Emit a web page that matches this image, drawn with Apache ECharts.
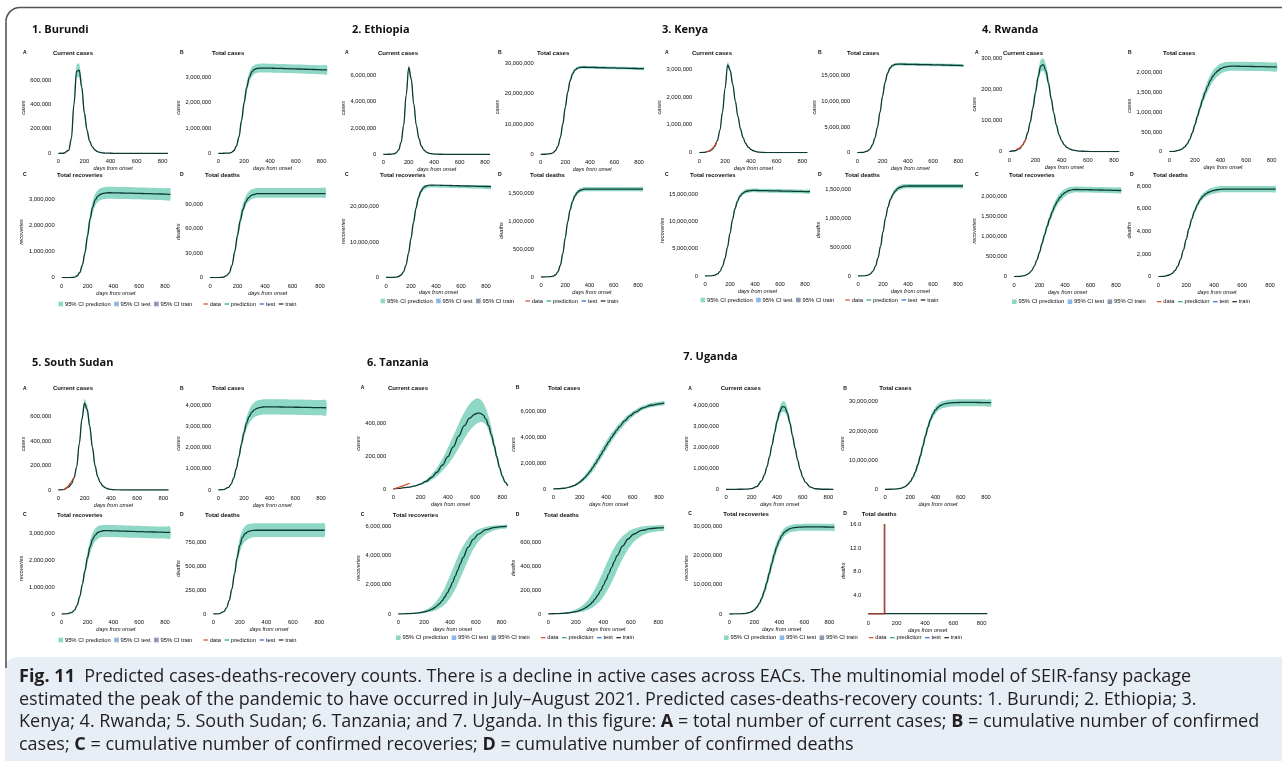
<!DOCTYPE html>
<html>
<head>
<meta charset="utf-8">
<title>Predicted cases-deaths-recovery counts</title>
<script src="https://cdn.jsdelivr.net/npm/echarts@6.0.0/dist/echarts.min.js"></script>
<style>
  html, body { margin: 0; padding: 0; background: #ffffff; }
  #chart { width: 1282px; height: 761px; }
</style>
</head>
<body>
<div id="chart"></div>
<script>
// Days from onset at which the model curves are sampled.
const DAYS = [0,40,80,100,120,140,160,180,200,220,240,260,280,300,320,340,360,380,400,420,440,460,480,500,540,580,620,680,740,800,840];

// Curve values are in thousands unless a panel says otherwise.
// A = current cases, B = total cases, C = total recoveries, D = total deaths; Lo/Hi = 95% CI of the prediction.

// ---- 1. Burundi ----
const burundiA   = [0,0.5,25,120,400,670,680,540,330,190,100,55,28,14,7,3,2,1,0.5,0,0,0,0,0,0,0,0,0,0,0,0];
const burundiAHi = [0,0.6,30,140,450,725,735,590,370,215,115,63,33,17,8,4,2,1,0.6,0,0,0,0,0,0,0,0,0,0,0,0];
const burundiALo = [0,0.4,20,100,350,615,625,490,290,165,85,47,23,11,6,2.5,1.5,0.8,0.4,0,0,0,0,0,0,0,0,0,0,0,0];
const burundiB   = [0,1,10,30,100,280,650,1300,2000,2600,3000,3220,3310,3350,3360,3365,3365,3363,3360,3358,3355,3352,3350,3347,3340,3333,3327,3317,3307,3297,3290];
const burundiBHi = [0,1.2,12,35,115,320,740,1450,2200,2800,3200,3410,3490,3525,3535,3540,3540,3538,3535,3533,3530,3527,3525,3522,3515,3508,3502,3492,3482,3472,3465];
const burundiBLo = [0,0.8,8,25,85,240,560,1150,1800,2400,2800,3030,3130,3175,3185,3190,3190,3188,3185,3183,3180,3177,3175,3172,3165,3158,3152,3142,3132,3122,3115];
const burundiC   = [0,0,8,25,75,200,480,950,1600,2250,2700,2980,3120,3190,3225,3240,3250,3250,3248,3246,3244,3242,3240,3238,3233,3228,3222,3215,3207,3198,3192];
const burundiCHi = [0,0,10,30,90,240,560,1100,1820,2480,2930,3210,3350,3420,3455,3470,3478,3478,3476,3474,3472,3470,3468,3466,3461,3456,3450,3443,3435,3426,3420];
const burundiCLo = [0,0,6,20,60,165,400,810,1390,2030,2480,2760,2900,2965,2998,3012,3020,3020,3018,3016,3014,3012,3010,3008,3003,2998,2992,2985,2977,2968,2962];
const burundiD   = [0,0,0.3,0.8,2.5,6,15,32,52,70,84,93,98,101,102,103,103,103,103,103,103,103,103,103,103,103,103,103,103,103,103];
const burundiDHi = [0,0,0.35,0.95,3,7,17.5,36,58,77,91,100,105,108,109,110,110,110,110,110,110,110,110,110,110,110,110,110,110,110,110];
const burundiDLo = [0,0,0.25,0.65,2,5,12.5,28,46,63,78,88,93,96,97,98,98,98,98,98,98,98,98,98,98,98,98,98,98,98,98];

// ---- 2. Ethiopia ----
const ethiopiaA   = [0,2,30,100,320,900,2200,4500,6600,5700,3800,2200,1200,620,320,160,80,40,20,10,5,2,1,0.5,0,0,0,0,0,0,0];
const ethiopiaAHi = [0,2.2,33,110,350,980,2380,4750,6800,5950,4000,2330,1280,670,350,175,88,44,22,11,5.5,2.2,1.1,0.5,0,0,0,0,0,0,0];
const ethiopiaALo = [0,1.8,27,90,290,820,2020,4250,6400,5450,3600,2070,1120,570,290,145,72,36,18,9,4.5,1.8,0.9,0.4,0,0,0,0,0,0,0];
const ethiopiaB   = [0,20,200,500,1200,2700,5500,10000,15500,20500,24300,26600,27800,28400,28650,28700,28700,28680,28660,28640,28620,28600,28580,28560,28520,28480,28440,28380,28320,28260,28220];
const ethiopiaBHi = [0,22,220,550,1320,2970,6000,10800,16500,21500,25100,27200,28300,28850,29100,29150,29150,29130,29110,29090,29070,29050,29030,29010,28970,28930,28890,28830,28770,28710,28670];
const ethiopiaBLo = [0,18,180,450,1080,2430,5000,9200,14500,19500,23500,26000,27300,27950,28200,28250,28250,28230,28210,28190,28170,28150,28130,28110,28070,28030,27990,27930,27870,27810,27770];
const ethiopiaC   = [0,10,100,280,700,1600,3500,6800,11000,15500,19500,22500,24300,25300,25800,26000,26050,26050,26030,26010,25990,25970,25950,25930,25890,25850,25810,25750,25690,25630,25590];
const ethiopiaCHi = [0,11,110,310,770,1760,3850,7400,11800,16400,20400,23300,25000,26000,26500,26700,26750,26750,26730,26710,26690,26670,26650,26630,26590,26550,26510,26450,26390,26330,26290];
const ethiopiaCLo = [0,9,90,250,630,1440,3150,6200,10200,14600,18600,21700,23600,24600,25100,25300,25350,25350,25330,25310,25290,25270,25250,25230,25190,25150,25110,25050,24990,24930,24890];
const ethiopiaD   = [0,0.5,5,15,40,95,210,420,700,980,1200,1350,1450,1510,1545,1560,1568,1570,1570,1570,1570,1570,1570,1570,1570,1570,1570,1570,1570,1570,1570];
const ethiopiaDHi = [0,0.55,5.5,16.5,44,104,230,455,750,1030,1250,1395,1490,1548,1582,1597,1605,1607,1607,1607,1607,1607,1607,1607,1607,1607,1607,1607,1607,1607,1607];
const ethiopiaDLo = [0,0.45,4.5,13.5,36,86,190,385,650,930,1150,1305,1410,1472,1508,1523,1531,1533,1533,1533,1533,1533,1533,1533,1533,1533,1533,1533,1533,1533,1533];

// ---- 3. Kenya ----
const kenyaA   = [0,15,60,120,230,430,800,1450,2300,3150,2950,2450,1850,1300,850,540,330,200,120,70,40,22,12,7,2.5,1,0.3,0,0,0,0];
const kenyaAHi = [0,16,63,126,242,452,840,1520,2410,3260,3060,2540,1920,1350,885,565,345,210,126,74,42,23,12.6,7.4,2.6,1,0.3,0,0,0,0];
const kenyaALo = [0,14,57,114,218,408,760,1380,2190,3040,2840,2360,1780,1250,815,515,315,190,114,66,38,21,11.4,6.6,2.4,1,0.3,0,0,0,0];
const kenyaB   = [0,40,300,700,1500,2900,5000,7900,11000,13700,15500,16500,17000,17200,17250,17250,17240,17230,17220,17210,17200,17190,17180,17170,17150,17130,17110,17080,17040,17000,16970];
const kenyaBHi = [0,42,315,735,1575,3045,5250,8300,11500,14200,15900,16850,17300,17480,17520,17520,17510,17500,17490,17480,17470,17460,17450,17440,17420,17400,17380,17350,17310,17270,17240];
const kenyaBLo = [0,38,285,665,1425,2755,4750,7500,10500,13200,15100,16150,16700,16920,16980,16980,16970,16960,16950,16940,16930,16920,16910,16900,16880,16860,16840,16810,16770,16730,16700];
const kenyaC   = [0,20,150,380,850,1750,3200,5300,7800,10300,12300,13700,14600,15100,15400,15550,15620,15650,15650,15640,15630,15620,15610,15600,15580,15560,15540,15510,15480,15450,15430];
const kenyaCHi = [0,21,158,400,890,1840,3360,5560,8150,10700,12700,14100,15000,15480,15760,15900,15970,16000,16000,15990,15980,15970,15960,15950,15930,15910,15890,15860,15830,15800,15780];
const kenyaCLo = [0,19,142,360,810,1660,3040,5040,7450,9900,11900,13300,14200,14720,15040,15200,15270,15300,15300,15290,15280,15270,15260,15250,15230,15210,15190,15160,15130,15100,15080];
const kenyaD   = [0,2,15,38,85,170,310,510,760,1000,1190,1320,1410,1470,1510,1530,1545,1550,1552,1552,1552,1552,1552,1552,1552,1552,1552,1552,1552,1552,1552];
const kenyaDHi = [0,2.1,15.5,39,88,176,320,527,785,1030,1225,1358,1450,1510,1550,1570,1585,1590,1592,1592,1592,1592,1592,1592,1592,1592,1592,1592,1592,1592,1592];
const kenyaDLo = [0,1.9,14.5,37,82,164,300,493,735,970,1155,1282,1370,1430,1470,1490,1505,1510,1512,1512,1512,1512,1512,1512,1512,1512,1512,1512,1512,1512,1512];
const kenyaAData = [[60,30],[80,70],[100,140],[120,260],[135,400]];

// ---- 4. Rwanda ----
const rwandaA   = [0,3,10,20,35,60,95,140,190,240,275,280,260,220,170,125,85,55,35,22,14,9,6,4,2,1,0.5,0,0,0,0];
const rwandaAHi = [0,3.2,11,21.5,38,65,103,152,205,258,295,300,279,236,183,135,92,60,38,24,15,10,6.5,4.3,2.2,1.1,0.5,0,0,0,0];
const rwandaALo = [0,2.8,9,18.5,32,55,87,128,175,222,255,260,241,204,157,115,78,50,32,20,13,8,5.5,3.7,1.8,0.9,0.5,0,0,0,0];
const rwandaB   = [0,10,40,70,120,200,320,480,680,900,1110,1320,1500,1660,1800,1910,1990,2050,2100,2130,2150,2160,2165,2165,2163,2160,2158,2155,2152,2148,2145];
const rwandaBHi = [0,11,44,77,132,220,352,528,745,985,1210,1435,1625,1795,1940,2050,2130,2185,2230,2255,2270,2278,2280,2280,2278,2275,2272,2268,2265,2260,2257];
const rwandaBLo = [0,9,36,63,108,180,288,432,615,815,1010,1205,1375,1525,1660,1770,1850,1915,1970,2005,2030,2042,2050,2050,2048,2045,2043,2040,2037,2033,2030];
const rwandaC   = [0,5,25,50,90,160,270,420,610,830,1050,1260,1450,1620,1770,1890,1980,2050,2100,2140,2160,2175,2180,2180,2178,2175,2172,2168,2163,2158,2155];
const rwandaCHi = [0,5.5,27,54,97,172,290,450,655,890,1125,1345,1545,1720,1875,1995,2085,2150,2195,2225,2240,2250,2252,2252,2250,2247,2244,2240,2235,2230,2227];
const rwandaCLo = [0,4.5,23,46,83,148,250,390,565,770,975,1175,1355,1520,1665,1785,1875,1950,2005,2055,2080,2100,2108,2108,2106,2103,2100,2096,2091,2086,2083];
const rwandaD   = [0,0.03,0.15,0.3,0.55,0.95,1.55,2.35,3.3,4.25,5.1,5.8,6.35,6.8,7.1,7.3,7.45,7.55,7.62,7.67,7.7,7.72,7.72,7.72,7.72,7.72,7.72,7.72,7.72,7.72,7.72];
const rwandaDHi = [0,0.035,0.16,0.32,0.58,1.0,1.64,2.48,3.48,4.45,5.32,6.03,6.6,7.05,7.35,7.56,7.72,7.82,7.9,7.95,7.98,8.0,8.0,8.0,8.0,8.0,8.0,8.0,8.0,8.0,8.0];
const rwandaDLo = [0,0.025,0.14,0.28,0.52,0.9,1.46,2.22,3.12,4.05,4.88,5.57,6.1,6.55,6.85,7.04,7.18,7.28,7.34,7.39,7.42,7.44,7.44,7.44,7.44,7.44,7.44,7.44,7.44,7.44,7.44];
const rwandaAData = [[50,6],[70,10],[90,16],[110,27],[125,40]];

// ---- 5. South Sudan ----
const southSudanA   = [0,3,25,50,100,190,380,580,710,660,520,350,200,110,60,32,17,9,4.5,2,1,0.5,0,0,0,0,0,0,0,0,0];
const southSudanAHi = [0,3.3,27,54,108,205,405,610,745,700,560,380,220,122,67,36,19,10,5,2.2,1.1,0.5,0,0,0,0,0,0,0,0,0];
const southSudanALo = [0,2.7,23,46,92,175,355,550,675,620,480,320,180,98,53,28,15,8,4,1.8,0.9,0.5,0,0,0,0,0,0,0,0,0];
const southSudanB   = [0,15,120,280,560,1000,1550,2150,2700,3150,3450,3650,3770,3840,3880,3900,3910,3915,3915,3913,3911,3909,3907,3905,3901,3897,3893,3887,3881,3875,3870];
const southSudanBHi = [0,16,130,305,610,1090,1690,2350,2950,3440,3770,3990,4120,4200,4240,4260,4270,4275,4275,4273,4271,4269,4267,4265,4261,4257,4253,4247,4241,4235,4230];
const southSudanBLo = [0,14,110,255,510,910,1410,1950,2450,2860,3130,3310,3420,3480,3520,3540,3550,3555,3555,3553,3551,3549,3547,3545,3541,3537,3533,3527,3521,3515,3510];
const southSudanC   = [0,5,60,150,330,650,1100,1600,2100,2500,2780,2940,3030,3075,3095,3100,3098,3095,3092,3089,3086,3083,3080,3077,3071,3065,3059,3052,3045,3038,3033];
const southSudanCHi = [0,5.5,66,165,363,715,1210,1760,2310,2740,3020,3180,3260,3295,3310,3312,3310,3307,3304,3301,3298,3295,3292,3289,3283,3277,3271,3264,3257,3250,3245];
const southSudanCLo = [0,4.5,54,135,297,585,990,1440,1890,2260,2540,2700,2790,2840,2860,2866,2864,2861,2858,2855,2852,2849,2846,2843,2837,2831,2825,2818,2811,2804,2799];
const southSudanD   = [0,2,25,65,140,260,420,590,720,800,840,860,870,874,876,876,876,876,876,876,876,876,876,876,876,876,876,876,876,876,876];
const southSudanDHi = [0,2.2,27,71,154,286,462,650,795,880,920,940,945,947,948,948,948,948,948,948,948,948,948,948,948,948,948,948,948,948,948];
const southSudanDLo = [0,1.8,23,59,126,234,378,530,645,720,760,780,795,802,805,805,805,805,805,805,805,805,805,805,805,805,805,805,805,805,805];
const southSudanAData = [[40,2],[60,18],[80,40],[100,70],[120,105]];

// ---- 6. Tanzania ----
// current cases use their own, denser sampling around the late peak
const tanzaniaADays = [0,40,80,120,160,200,240,280,320,360,400,440,480,520,560,600,620,640,660,680,700,720,740,760,780,800,820,840];
const tanzaniaA   = [0,4,8,12,19,30,46,70,102,145,197,257,322,384,432,456,462,461,450,425,385,330,265,195,130,78,42,20];
const tanzaniaAHi = [0,4.5,9,14,22,36,57,88,129,184,250,323,398,466,518,548,552,545,525,490,440,375,300,220,148,90,50,24];
const tanzaniaALo = [0,3.5,7,10,16,24,36,54,78,110,148,194,248,305,355,390,402,408,405,390,355,300,238,172,112,66,35,17];
const tanzaniaB   = [0,20,60,95,140,200,280,390,530,700,900,1130,1390,1680,1990,2320,2660,3000,3340,3670,3990,4290,4570,4830,5290,5670,5970,6300,6500,6610,6660];
const tanzaniaBHi = [0,25,80,125,180,255,355,490,660,860,1090,1350,1640,1960,2300,2650,3000,3350,3690,4010,4320,4600,4860,5100,5520,5870,6140,6480,6680,6780,6820];
const tanzaniaBLo = [0,16,45,70,105,150,210,290,400,540,710,910,1140,1400,1690,2000,2330,2660,3000,3330,3650,3960,4250,4520,5010,5420,5760,6150,6350,6450,6500];
const tanzaniaC   = [0,12,24,33,45,60,80,106,141,186,249,326,425,552,713,916,1160,1453,1787,2166,2575,3000,3425,3834,4547,5084,5450,5751,5892,5953,5974];
const tanzaniaCHi = [0,20,40,55,75,100,140,185,245,325,425,550,715,920,1170,1470,1810,2200,2620,3050,3480,3900,4280,4620,5170,5540,5770,5950,6040,6070,6085];
const tanzaniaCLo = [0,6,12,16,22,30,40,54,72,97,128,170,225,295,390,505,655,840,1075,1355,1670,2030,2430,2850,3670,4390,4940,5450,5700,5810,5850];
const tanzaniaD   = [0,2,3.7,4.9,6.5,8.6,11.5,15,20,26,35,46,59,77,99,126,158,196,240,288,339,391,442,490,572,631,671,704,718,725,727];
const tanzaniaDHi = [0,4,7,9.5,12.6,16.6,22,29,38,50,65,84,107,137,173,212,259,309,362,415,467,515,559,597,655,693,717,736,744,747,749];
const tanzaniaDLo = [0,1.1,1.9,2.5,3.3,4.4,5.9,7.8,10.3,13.6,18,24,31,41,53,70,90,114,144,180,221,266,314,365,462,543,604,658,685,696,700];
const tanzaniaAData = [[0,0],[40,10],[80,22],[120,35]];

// ---- 7. Uganda ----
// current cases use their own, denser sampling around the peak
const ugandaADays = [0,40,80,120,160,200,240,280,300,320,340,360,380,400,420,440,460,480,500,520,540,560,580,600,620,660,700,760,840];
const ugandaA   = [0,0.5,1,2,5.5,30,126,413,680,1055,1535,2100,2690,3250,3680,3920,3900,3620,3150,2550,1950,1400,930,580,340,100,25,2,0];
const ugandaAHi = [0,0.5,1.1,2.1,5.8,32,134,440,725,1120,1630,2230,2860,3450,3910,4170,4150,3850,3350,2710,2070,1490,990,615,360,106,27,2,0];
const ugandaALo = [0,0.5,0.9,1.9,5.2,28,118,386,635,990,1440,1970,2520,3050,3450,3670,3650,3390,2950,2390,1830,1310,870,545,320,94,23,2,0];
const ugandaB   = [0,20,80,150,300,550,950,1600,2600,4000,5900,8400,11400,14800,18200,21300,23900,25800,27200,28100,28700,29100,29350,29500,29650,29720,29750,29750,29720,29680,29650];
const ugandaBHi = [0,22,90,170,340,630,1100,1850,3000,4600,6700,9400,12600,16100,19500,22500,25000,26900,28300,29200,29800,30200,30450,30600,30750,30820,30850,30850,30820,30780,30750];
const ugandaBLo = [0,18,70,130,260,470,810,1360,2200,3400,5100,7400,10200,13500,16900,20000,22600,24500,25900,26800,27400,27800,28050,28200,28350,28420,28450,28450,28420,28380,28350];
const ugandaC   = [0,10,40,80,150,280,500,850,1400,2300,3600,5400,7800,10700,13900,17200,20300,23000,25100,26700,27800,28500,29000,29300,29550,29650,29700,29700,29680,29650,29620];
const ugandaCHi = [0,11,45,90,170,320,580,990,1650,2700,4200,6300,9000,12200,15600,19000,22100,24700,26700,28200,29200,29800,30200,30450,30650,30720,30750,30750,30730,30700,30680];
const ugandaCLo = [0,9,35,70,130,240,420,710,1150,1900,3000,4500,6600,9200,12200,15400,18500,21300,23500,25200,26400,27200,27700,28000,28250,28350,28400,28400,28380,28350,28320];
// Uganda deaths are plain counts (not thousands).
const ugandaD   = [1,1,1,1,1,1,1,1,1,1,1,1,1,1,1,1,1,1,1,1,1,1,1,1,1,1,1,1,1,1,1];
const ugandaDData  = [[0,1],[112,1],[112,16]];
const ugandaDTrain = [[0,1],[116,1],[116,16]];

// Shared text for the four panels of each country.
const PANEL_TEXT = {
  A: ['Current cases', 'cases'],
  B: ['Total cases', 'cases'],
  C: ['Total recoveries', 'recoveries'],
  D: ['Total deaths', 'deaths']
};
const LEGEND_FILLS = ['95% CI prediction', '95% CI test', '95% CI train'];
const LEGEND_LINES = ['data', 'prediction', 'test', 'train'];
const CAPTION_LINES = [
  '{b|Fig. 11}  Predicted cases-deaths-recovery counts. There is a decline in active cases across EACs. The multinomial model of SEIR-fansy package',
  'estimated the peak of the pandemic to have occurred in July\u2013August 2021. Predicted cases-deaths-recovery counts: 1. Burundi; 2. Ethiopia; 3.',
  'Kenya; 4. Rwanda; 5. South Sudan; 6. Tanzania; and 7. Uganda. In this figure: {b|A} = total number of current cases; {b|B} = cumulative number of confirmed',
  'cases; {b|C} = cumulative number of confirmed recoveries; {b|D} = cumulative number of confirmed deaths'
];

// ---------- styling ----------
const XMAX = 840;
const FONT = '"Liberation Sans", Arial, sans-serif';
const CAPTION_FONT = '"Open Sans", "Noto Sans", sans-serif';
const TICK_SIZE = 5.8;
const INK = '#0d0d0d';
const BAND = '#8fd8c6';
const MAIN = '#0c3934';
const DATA_RED = '#d8462a';
const TRAIN_DARK = '#14213d';
const KEY_COLORS = {
  '95% CI prediction': '#8fd8c6', '95% CI test': '#8db8ea', '95% CI train': '#8d99ae',
  data: '#d8462a', prediction: '#1fa38a', test: '#2f6bd1', train: '#14213d'
};

// Panel geometry in page pixels: x0/x8 = day 0 / day 800, y0 = value 0, yT = value T.
function P(id, mid, lo, hi, geo, extra) {
  return Object.assign({ id, mid, lo, hi, geo, unit: 1000 }, extra || {});
}
const COUNTRIES = [
  { title: '1. Burundi', tx: 32, ty: 30, legendX: 177.5, legendY: 304, panels: [
    P('A', burundiA, burundiALo, burundiAHi, { x0: 58.3, x8: 162.7, y0: 153.3, yT: 80, T: 6e5, step: 2e5, top: 62, lx: 23, tx: 53, ty: 53 }),
    P('B', burundiB, burundiBLo, burundiBHi, { x0: 218.3, x8: 321.7, y0: 153.3, yT: 77.3, T: 3e6, step: 1e6, top: 62, lx: 180, tx: 212, ty: 53 }),
    P('C', burundiC, burundiCLo, burundiCHi, { x0: 61.7, x8: 165, y0: 277.7, yT: 199.3, T: 3e6, step: 1e6, top: 186, lx: 23, tx: 57, ty: 175 }),
    P('D', burundiD, burundiDLo, burundiDHi, { x0: 210, x8: 320, y0: 277.7, yT: 204.3, T: 9e4, step: 3e4, top: 186, lx: 180, tx: 205, ty: 175 })
  ]},
  { title: '2. Ethiopia', tx: 352, ty: 30, legendX: 499.5, legendY: 301, panels: [
    P('A', ethiopiaA, ethiopiaALo, ethiopiaAHi, { x0: 383.3, x8: 485, y0: 154.3, yT: 75.3, T: 6e6, step: 2e6, top: 62, lx: 345, tx: 378, ty: 53 }),
    P('B', ethiopiaB, ethiopiaBLo, ethiopiaBHi, { x0: 540.7, x8: 639, y0: 154.3, yT: 63.3, T: 3e7, step: 1e7, top: 60, lx: 498, tx: 537, ty: 53 }),
    P('C', ethiopiaC, ethiopiaCLo, ethiopiaCHi, { x0: 386, x8: 486, y0: 277.5, yT: 206.5, T: 2e7, step: 1e7, top: 185, lx: 345, tx: 380, ty: 175 }),
    P('D', ethiopiaD, ethiopiaDLo, ethiopiaDHi, { x0: 541, x8: 638, y0: 277, yT: 193, T: 1.5e6, step: 5e5, top: 184, lx: 498, tx: 530, ty: 175 })
  ]},
  { title: '3. Kenya', tx: 662, ty: 30, legendX: 819.5, legendY: 300, panels: [
    P('A', kenyaA, kenyaALo, kenyaAHi, { x0: 699.3, x8: 802.3, y0: 152.7, yT: 69, T: 3e6, step: 1e6, top: 62, lx: 665, tx: 692, ty: 53 }, { obs: kenyaAData }),
    P('B', kenyaB, kenyaBLo, kenyaBHi, { x0: 857.3, x8: 958.3, y0: 152.7, yT: 75.7, T: 1.5e7, step: 5e6, top: 62, lx: 818, tx: 847, ty: 53 }),
    P('C', kenyaC, kenyaCLo, kenyaCHi, { x0: 705, x8: 805, y0: 276, yT: 194, T: 1.5e7, step: 5e6, top: 185, lx: 665, tx: 690, ty: 175 }),
    P('D', kenyaD, kenyaDLo, kenyaDHi, { x0: 858, x8: 958, y0: 276, yT: 189, T: 1.5e6, step: 5e5, top: 184, lx: 818, tx: 845, ty: 175 })
  ]},
  { title: '4. Rwanda', tx: 982, ty: 30, legendX: 1131, legendY: 301.7, panels: [
    P('A', rwandaA, rwandaALo, rwandaAHi, { x0: 1009.3, x8: 1114, y0: 151.7, yT: 58.3, T: 3e5, step: 1e5, top: 57, lx: 975, tx: 1003, ty: 53 }, { obs: rwandaAData }),
    P('B', rwandaB, rwandaBLo, rwandaBHi, { x0: 1169.3, x8: 1271.7, y0: 151.7, yT: 72.7, T: 2e6, step: 5e5, top: 60, lx: 1128, tx: 1163, ty: 53 }),
    P('C', rwandaC, rwandaCLo, rwandaCHi, { x0: 1014, x8: 1116, y0: 276.7, yT: 196.7, T: 2e6, step: 5e5, top: 185, lx: 975, tx: 1009, ty: 175 }),
    P('D', rwandaD, rwandaDLo, rwandaDHi, { x0: 1158.3, x8: 1270, y0: 276.7, yT: 186, T: 8000, step: 2000, top: 184, lx: 1130, tx: 1153, ty: 175 })
  ]},
  { title: '5. South Sudan', tx: 32, ty: 362.7, legendX: 177.5, legendY: 640, panels: [
    P('A', southSudanA, southSudanALo, southSudanAHi, { x0: 58.3, x8: 163.3, y0: 490, yT: 416.7, T: 6e5, step: 2e5, top: 398, lx: 23, tx: 53, ty: 388.3 }, { obs: southSudanAData }),
    P('B', southSudanB, southSudanBLo, southSudanBHi, { x0: 218.3, x8: 321, y0: 490, yT: 405, T: 4e6, step: 1e6, top: 397, lx: 180, tx: 212, ty: 388.3 }),
    P('C', southSudanC, southSudanCLo, southSudanCHi, { x0: 61.7, x8: 165, y0: 614, yT: 533.3, T: 3e6, step: 1e6, top: 523, lx: 23, tx: 57, ty: 515 }),
    P('D', southSudanD, southSudanDLo, southSudanDHi, { x0: 213.3, x8: 319.3, y0: 614, yT: 542.3, T: 7.5e5, step: 2.5e5, top: 523, lx: 180, tx: 205, ty: 515 })
  ]},
  { title: '6. Tanzania', tx: 367, ty: 362.7, legendX: 515, legendY: 637.7, panels: [
    P('A', tanzaniaA, tanzaniaALo, tanzaniaAHi, { x0: 393.3, x8: 502.3, y0: 489, yT: 423.3, T: 4e5, step: 2e5, top: 398, lx: 360.7, tx: 388, ty: 388 }, { obs: tanzaniaAData, days: tanzaniaADays }),
    P('B', tanzaniaB, tanzaniaBLo, tanzaniaBHi, { x0: 553.3, x8: 659, y0: 489, yT: 411.7, T: 6e6, step: 2e6, top: 400, lx: 515.7, tx: 548, ty: 388 }),
    P('C', tanzaniaC, tanzaniaCLo, tanzaniaCHi, { x0: 398.3, x8: 501.7, y0: 614, yT: 526, T: 6e6, step: 2e6, top: 522, lx: 360.7, tx: 392.7, ty: 515 }),
    P('D', tanzaniaD, tanzaniaDLo, tanzaniaDHi, { x0: 548.3, x8: 658.3, y0: 614, yT: 542.7, T: 6e5, step: 2e5, top: 522, lx: 515.7, tx: 544, ty: 515 })
  ]},
  { title: '7. Uganda', tx: 683.3, ty: 356.7, legendX: 843, legendY: 637.7, panels: [
    P('A', ugandaA, ugandaALo, ugandaAHi, { x0: 726, x8: 828.3, y0: 489.3, yT: 405, T: 4e6, step: 1e6, top: 398, lx: 688.3, tx: 720.7, ty: 388.3 }, { days: ugandaADays }),
    P('B', ugandaB, ugandaBLo, ugandaBHi, { x0: 885, x8: 986, y0: 489.3, yT: 401.7, T: 3e7, step: 1e7, top: 398, lx: 843.3, tx: 879.3, ty: 388.3 }),
    P('C', ugandaC, ugandaCLo, ugandaCHi, { x0: 729.3, x8: 829.3, y0: 614, yT: 526, T: 3e7, step: 1e7, top: 522, lx: 688.3, tx: 723.3, ty: 514 }),
    P('D', ugandaD, ugandaD, ugandaD, { x0: 868.3, x8: 981.7, y0: 619.7, yT: 524, T: 16, step: 4, top: 522, lx: 843.3, tx: 861.7, ty: 514, xm: 0.5, xng: 6 },
      { unit: 1, decimals: 1, hideZero: true, obs: ugandaDData, train: ugandaDTrain })
  ]}
];

// ---------- helpers ----------
const measureCtx = document.createElement('canvas').getContext('2d');
function textWidth(str, size, weight, family) {
  measureCtx.font = (weight || 'normal') + ' ' + size + 'px ' + (family || FONT);
  return measureCtx.measureText(str).width;
}
function fmtTick(v, p) {
  return p.decimals ? v.toFixed(p.decimals) : Math.round(v).toLocaleString('en-US');
}
function txt(x, y, text, opts) {
  return {
    type: 'text', x: x, y: y, silent: true, z: 10,
    style: Object.assign({
      text: text, fill: INK, fontFamily: FONT, fontSize: 6, fontWeight: 'normal',
      align: 'left', verticalAlign: 'middle', textAlign: 'left', textVerticalAlign: 'middle'
    }, opts || {})
  };
}

const option = {
  animation: false,
  backgroundColor: '#ffffff',
  textStyle: { fontFamily: FONT },
  grid: [], xAxis: [], yAxis: [], series: [], graphic: []
};
const G = option.graphic;

// figure frame and caption panel
G.push({ type: 'line', silent: true, shape: { x1: 20, y1: 7.5, x2: 1282, y2: 7.5 }, style: { stroke: '#555', lineWidth: 1.6 } });
G.push({ type: 'arc', silent: true, shape: { cx: 20, cy: 21.5, r: 14, startAngle: Math.PI, endAngle: Math.PI * 1.5, clockwise: true }, style: { stroke: '#555', lineWidth: 1.6, fill: null } });
G.push({ type: 'line', silent: true, shape: { x1: 6, y1: 21.5, x2: 6, y2: 668 }, style: { stroke: '#555', lineWidth: 1.6 } });
G.push({ type: 'rect', silent: true, z: -1, shape: { x: 5, y: 657, width: 1290, height: 120, r: [12, 0, 0, 0] }, style: { fill: '#e8eef5' } });

// caption size chosen so that the third line spans the text column
const thirdPlain = CAPTION_LINES[2].replace(/\{b\|([^}]*)\}/g, '$1');
const CAPTION_SIZE = Math.min(18, 15 * 1252 / textWidth(thirdPlain, 15, 'normal', CAPTION_FONT));
CAPTION_LINES.forEach((line, i) => {
  G.push(txt(19, 677 + i * 22.6, line, {
    fontFamily: CAPTION_FONT, fontSize: CAPTION_SIZE, fill: '#231f20',
    rich: { b: { fontFamily: CAPTION_FONT, fontSize: CAPTION_SIZE, fontWeight: 'bold', fill: '#231f20' } }
  }));
});

let gi = 0;
COUNTRIES.forEach(c => {
  G.push(txt(c.tx, c.ty, c.title, { fontFamily: '"Open Sans", sans-serif', fontSize: 11, fontWeight: 'bold', fill: '#111' }));

  c.panels.forEach(p => {
    const g = p.geo;
    const pxPerDay = (g.x8 - g.x0) / 800;
    const pxPerUnit = (g.y0 - g.yT) / g.T;
    const ymax = (g.y0 - g.top) / pxPerUnit;
    const [title, yName] = PANEL_TEXT[p.id];

    G.push(txt(g.lx, g.ty, p.id, { fontSize: 5, fontWeight: 'bold' }));
    G.push(txt(g.tx, g.ty, title, { fontSize: 6, fontWeight: 'bold' }));

    option.grid.push({
      left: g.x0, top: g.top, width: pxPerDay * XMAX, height: g.y0 - g.top,
      containLabel: false, outerBoundsMode: 'none', show: false
    });

    option.xAxis.push({
      type: 'value', gridIndex: gi, min: 0, max: XMAX, interval: 200,
      axisLine: { show: false }, axisTick: { show: false }, splitLine: { show: false },
      axisLabel: {
        fontSize: TICK_SIZE, color: INK, fontFamily: FONT, margin: g.xm != null ? g.xm : 5.5,
        formatter: v => (v % 200 === 0 && v <= 800 ? String(v) : '')
      },
      name: 'days from onset', nameLocation: 'middle', nameGap: g.xng != null ? g.xng : 11.5,
      nameTextStyle: { fontSize: 5.5, fontStyle: 'italic', color: INK, fontFamily: FONT }
    });

    const topLabel = fmtTick(g.T, p);
    const labelW = textWidth(topLabel, TICK_SIZE);
    option.yAxis.push({
      type: 'value', gridIndex: gi, min: 0, max: ymax, interval: g.step,
      axisLine: { show: false }, axisTick: { show: false }, splitLine: { show: false },
      axisLabel: {
        fontSize: TICK_SIZE, color: INK, fontFamily: FONT, margin: 7,
        formatter: v => {
          const k = v / g.step;
          if (Math.abs(k - Math.round(k)) > 1e-6 || v > g.T * 1.0001) return '';
          if (p.hideZero && v === 0) return '';
          return fmtTick(v, p);
        }
      },
      name: yName, nameLocation: 'middle', nameRotate: 90, nameGap: 7 + labelW + 4,
      nameTextStyle: { fontSize: 5.5, fontStyle: 'italic', color: INK, fontFamily: FONT }
    });

    const u = p.unit;
    const days = p.days || DAYS;
    const pts = arr => days.map((d, i) => [d, arr[i] * u]);

    // 95% CI band: polygon through the upper bound and back along the lower bound
    if (p.lo !== p.hi) {
      const hiPts = pts(p.hi), loPts = pts(p.lo);
      option.series.push({
        type: 'custom', name: '95% CI prediction', xAxisIndex: gi, yAxisIndex: gi, silent: true, clip: true, z: 2,
        data: [[0, 0]],
        renderItem: (params, api) => {
          const upper = hiPts.map(q => api.coord(q));
          const lower = loPts.map(q => api.coord(q)).reverse();
          return {
            type: 'polygon',
            shape: { points: upper.concat(lower), smooth: 0.25 },
            style: { fill: BAND, stroke: null }
          };
        }
      });
    }
    option.series.push({
      type: 'line', name: 'prediction', xAxisIndex: gi, yAxisIndex: gi, symbol: 'none',
      smooth: 0.4, smoothMonotone: 'x', silent: true,
      data: pts(p.mid), lineStyle: { color: MAIN, width: 1.3 }, z: 4
    });
    if (p.obs) {
      option.series.push({
        type: 'line', name: 'data', xAxisIndex: gi, yAxisIndex: gi, symbol: 'none', silent: true,
        data: p.obs.map(o => [o[0], o[1] * u]), lineStyle: { color: DATA_RED, width: 1.1 }, z: 6
      });
    }
    if (p.train) {
      option.series.push({
        type: 'line', name: 'train', xAxisIndex: gi, yAxisIndex: gi, symbol: 'none', silent: true,
        data: p.train.map(o => [o[0], o[1] * u]), lineStyle: { color: TRAIN_DARK, width: 1.1 }, z: 5
      });
    }
    gi++;
  });

  // legend row: filled keys for the intervals, short line keys for the curves
  const KEY = 4.6, GAP_IN = 1.8, GAP_ITEM = 3.5, GAP_GROUP = 11, LSIZE = TICK_SIZE;
  const items = LEGEND_FILLS.map(n => ({ n, kind: 'fill' })).concat(LEGEND_LINES.map(n => ({ n, kind: 'line' })));
  let total = 0;
  items.forEach((it, i) => {
    it.w = KEY + GAP_IN + textWidth(it.n, LSIZE);
    total += it.w + (i < items.length - 1 ? (i === LEGEND_FILLS.length - 1 ? GAP_GROUP : GAP_ITEM) : 0);
  });
  let x = c.legendX - total / 2;
  const y = c.legendY;
  items.forEach((it, i) => {
    if (it.kind === 'fill') {
      G.push({ type: 'rect', silent: true, shape: { x: x, y: y - KEY / 2, width: KEY, height: KEY }, style: { fill: KEY_COLORS[it.n] } });
    } else {
      G.push({ type: 'line', silent: true, shape: { x1: x, y1: y, x2: x + KEY, y2: y }, style: { stroke: KEY_COLORS[it.n], lineWidth: 1.2 } });
    }
    G.push(txt(x + KEY + GAP_IN, y, it.n, { fontSize: LSIZE }));
    x += it.w + (i === LEGEND_FILLS.length - 1 ? GAP_GROUP : GAP_ITEM);
  });
});

const chart = echarts.init(document.getElementById('chart'), null, { renderer: 'canvas' });
chart.setOption(option);
</script>
</body>
</html>
